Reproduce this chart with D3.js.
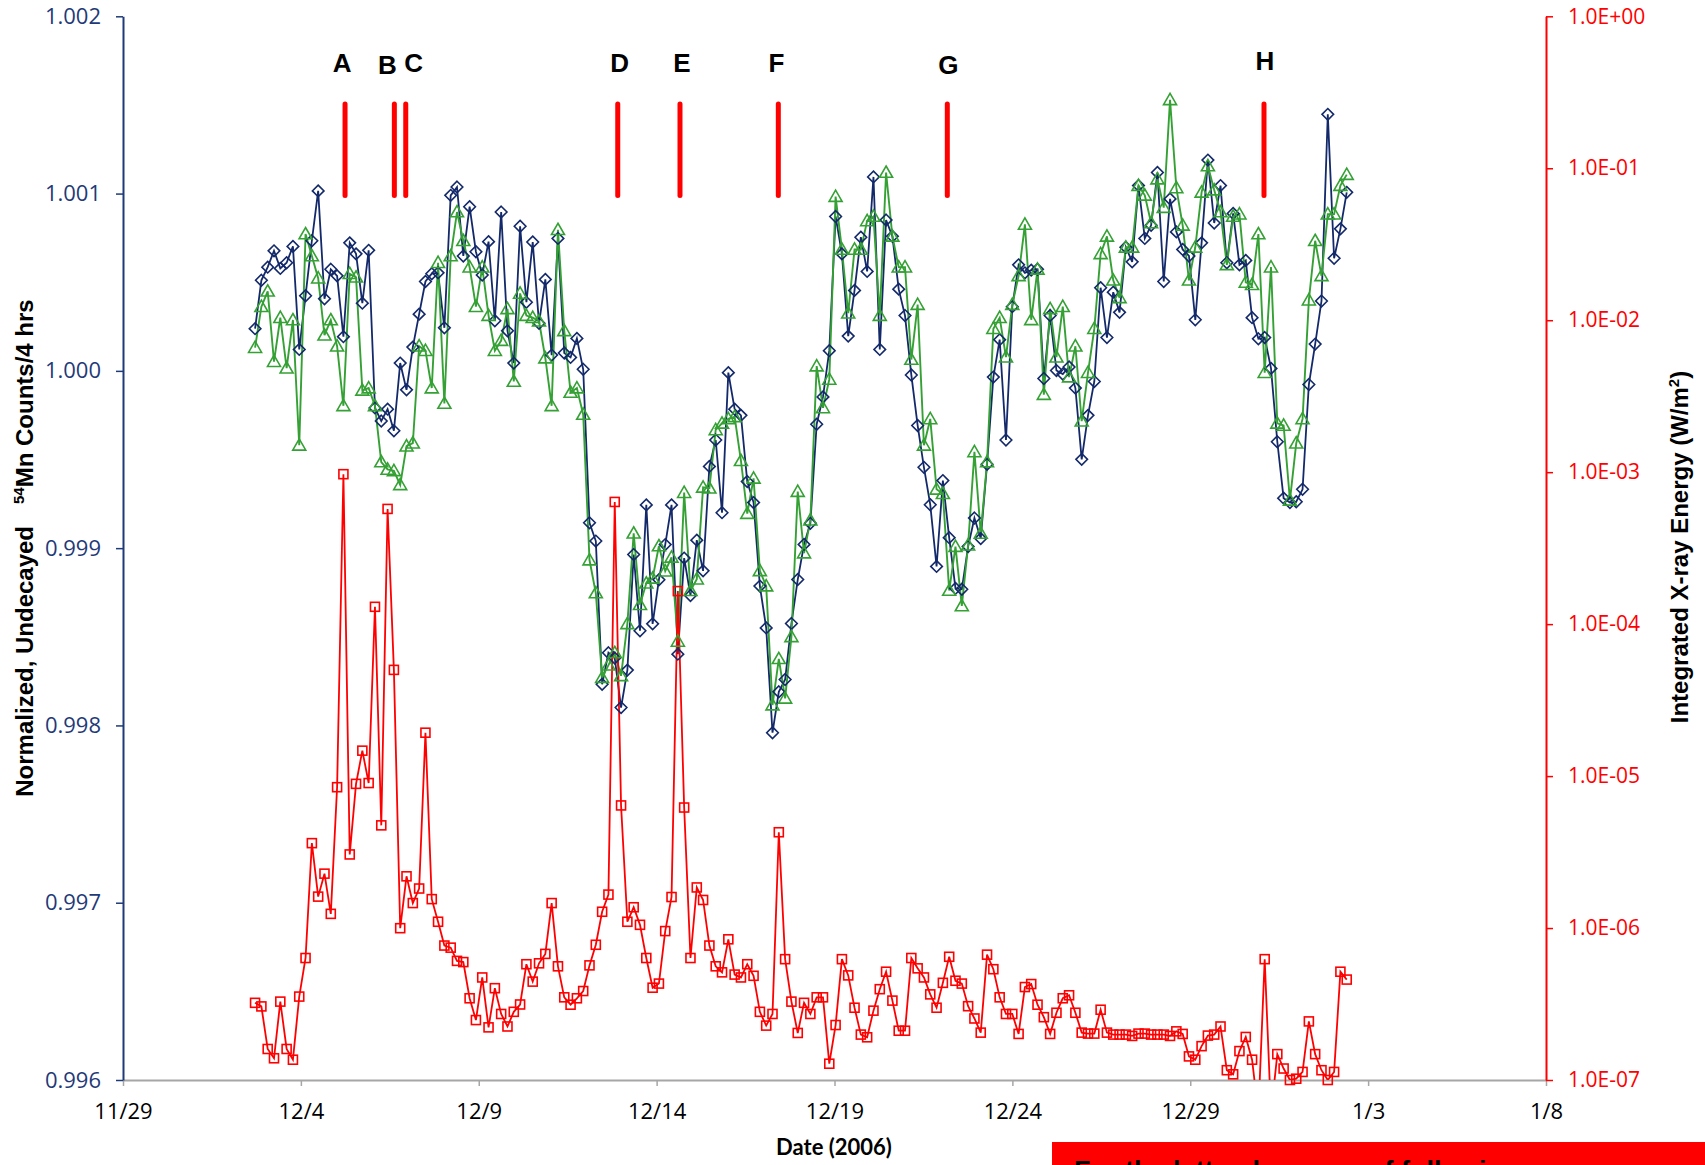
<!DOCTYPE html>
<html><head><meta charset="utf-8">
<script src="https://cdn.jsdelivr.net/npm/d3@7"></script>
<style>
html,body{margin:0;padding:0;background:#fff;}
svg{display:block;}
</style></head><body>
<svg id="chart" width="1705" height="1165"></svg>
<script>
// ---------- DATA ----------
const startTime = "2006-12-02T17:06";   // first 4-hr count
const intervalHours = 4.257;             // spacing between counts

const mn54Counts = [
1.000238,1.000511,1.000585,1.000677,1.000578,1.000610,1.000702,1.000121,1.000424,1.000734,
1.001015,1.000407,1.000573,1.000536,1.000193,1.000722,1.000660,1.000382,1.000680,0.999791,
0.999717,0.999784,0.999662,1.000044,0.999893,1.000134,1.000320,1.000504,1.000548,1.000553,
1.000243,1.000990,1.001037,1.000648,1.000926,1.000672,1.000541,1.000729,1.000283,1.000896,
1.000226,1.000044,1.000816,1.000387,1.000727,1.000268,1.000516,1.000089,1.000747,1.000101,
1.000076,1.000183,1.000009,0.999143,0.999040,0.998232,0.998410,0.998380,0.998101,0.998312,
0.998964,0.998534,0.999244,0.998573,0.998822,0.999020,0.999244,0.998402,0.998944,0.998733,
0.999045,0.998872,0.999461,0.999610,0.999200,0.999990,0.999784,0.999749,0.999376,0.999257,
0.998786,0.998550,0.997959,0.998190,0.998259,0.998575,0.998823,0.999021,0.999140,0.999699,
0.999853,1.000114,1.000871,1.000660,1.000196,1.000454,1.000754,1.000561,1.001094,1.000121,
1.000851,1.000759,1.000461,1.000312,0.999977,0.999692,0.999456,0.999245,0.998897,0.999381,
0.999059,0.998773,0.998768,0.999009,0.999170,0.999054,0.999473,0.999965,1.000176,0.999610,
1.000362,1.000598,1.000553,1.000568,1.000573,0.999957,1.000312,1.000002,0.999982,1.000022,
0.999903,0.999501,0.999749,0.999940,1.000469,1.000188,1.000444,1.000330,1.000697,1.000615,
1.001045,1.000747,1.000821,1.001119,1.000504,1.000970,1.000784,1.000685,1.000648,1.000288,
1.000722,1.001189,1.000834,1.001045,1.000610,1.000888,1.000598,1.000623,1.000300,1.000181,
1.000188,1.000014,0.999600,0.999282,0.999257,0.999262,0.999332,0.999923,1.000151,1.000394,
1.001447,1.000635,1.000801,1.001007];

const mn54Second = [
1.000131,1.000362,1.000449,1.000052,1.000300,1.000015,1.000287,0.999580,1.000772,1.000648,
1.000523,1.000201,1.000287,1.000139,0.999803,1.000548,1.000528,0.999890,0.999903,0.999803,
0.999486,0.999444,0.999436,0.999357,0.999575,0.999592,1.000139,1.000114,0.999903,1.000610,
0.999816,1.000648,1.000896,1.000734,1.000585,1.000362,1.000585,1.000312,1.000114,1.000171,
1.000350,0.999940,1.000437,1.000312,1.000300,1.000280,1.000072,0.999803,1.000796,1.000226,
0.999878,0.999903,0.999754,0.998933,0.998747,0.998270,0.998340,0.998410,0.998280,0.998573,
0.999084,0.998681,0.998802,0.998830,0.999012,0.998870,0.998948,0.998474,0.999313,0.998760,
0.998825,0.999343,0.999338,0.999667,0.999704,0.999729,0.999741,0.999493,0.999195,0.999394,
0.998872,0.998786,0.998115,0.998376,0.998153,0.998500,0.999319,0.998972,0.999158,1.000027,
0.999791,0.999952,1.000983,1.000685,1.000325,1.000685,1.000685,1.000846,1.000871,1.000312,
1.001119,1.000759,1.000585,1.000585,1.000064,1.000374,0.999580,0.999729,0.999332,0.999307,
0.998761,0.999009,0.998674,0.999017,0.999543,0.999083,0.999486,1.000238,1.000300,1.000077,
1.000374,1.000536,1.000826,1.000288,1.000573,0.999866,1.000350,1.000077,1.000362,0.999965,
1.000139,0.999716,0.999990,1.000238,1.000660,1.000759,1.000511,1.000412,1.000697,1.000697,
1.001045,1.000990,1.000834,1.001082,1.000921,1.001529,1.001032,1.000821,1.000511,1.000697,
1.001007,1.001156,1.001020,1.000896,1.000598,1.000871,1.000884,1.000499,1.000486,1.000772,
0.999990,1.000585,0.999704,0.999692,0.999270,0.999592,0.999729,1.000399,1.000734,1.000536,
1.000884,1.000884,1.001045,1.001107];

const xrayEnergy = [
3.22e-7,3.05e-7,1.60e-7,1.39e-7,3.28e-7,1.60e-7,1.36e-7,3.54e-7,6.35e-7,3.62e-6,
1.61e-6,2.28e-6,1.24e-6,8.45e-6,9.70e-4,3.05e-6,8.89e-6,1.47e-5,9.00e-6,1.30e-4,
4.74e-6,5.73e-4,5.00e-5,9.98e-7,2.19e-6,1.46e-6,1.82e-6,1.93e-5,1.55e-6,1.10e-6,
7.67e-7,7.43e-7,6.08e-7,5.97e-7,3.45e-7,2.48e-7,4.73e-7,2.22e-7,4.02e-7,2.72e-7,
2.25e-7,2.81e-7,3.14e-7,5.78e-7,4.44e-7,5.86e-7,6.76e-7,1.46e-6,5.60e-7,3.50e-7,
3.13e-7,3.45e-7,3.85e-7,5.68e-7,7.76e-7,1.28e-6,1.66e-6,6.37e-4,6.41e-6,1.10e-6,
1.37e-6,1.05e-6,6.35e-7,4.05e-7,4.31e-7,9.55e-7,1.60e-6,1.65e-4,6.21e-6,6.35e-7,
1.85e-6,1.53e-6,7.67e-7,5.60e-7,5.11e-7,8.43e-7,4.94e-7,4.73e-7,5.78e-7,4.85e-7,
2.81e-7,2.28e-7,2.72e-7,4.27e-6,6.24e-7,3.28e-7,2.04e-7,3.22e-7,2.72e-7,3.50e-7,
3.50e-7,1.28e-7,2.30e-7,6.24e-7,4.88e-7,2.99e-7,1.99e-7,1.91e-7,2.86e-7,3.96e-7,
5.16e-7,3.33e-7,2.11e-7,2.11e-7,6.35e-7,5.43e-7,4.73e-7,3.66e-7,2.99e-7,4.36e-7,
6.47e-7,4.50e-7,4.31e-7,3.06e-7,2.54e-7,2.05e-7,6.68e-7,5.36e-7,3.50e-7,2.72e-7,
2.72e-7,2.01e-7,4.09e-7,4.28e-7,3.13e-7,2.59e-7,2.01e-7,2.77e-7,3.45e-7,3.61e-7,
2.77e-7,2.05e-7,2.02e-7,2.02e-7,2.90e-7,2.05e-7,1.99e-7,1.99e-7,1.99e-7,1.95e-7,
2.02e-7,2.02e-7,1.99e-7,1.99e-7,1.99e-7,1.95e-7,2.09e-7,2.01e-7,1.43e-7,1.36e-7,
1.67e-7,1.96e-7,1.99e-7,2.25e-7,1.16e-7,1.09e-7,1.55e-7,1.92e-7,1.36e-7,6.0e-8,
6.24e-7,6.0e-8,1.48e-7,1.19e-7,1.00e-7,1.02e-7,1.13e-7,2.43e-7,1.48e-7,1.16e-7,
1.00e-7,1.13e-7,5.16e-7,4.58e-7];

const xTickDates  = ["2006-11-29","2006-12-04","2006-12-09","2006-12-14","2006-12-19","2006-12-24","2006-12-29","2007-01-03","2007-01-08"];
const xTickLabels = ["11/29","12/4","12/9","12/14","12/19","12/24","12/29","1/3","1/8"];
const leftTicks  = [0.996,0.997,0.998,0.999,1.000,1.001,1.002];
const rightTicks = [1e-7,1e-6,1e-5,1e-4,1e-3,1e-2,1e-1,1];

const eventLabels = ["A","B","C","D","E","F","G","H"];
const eventTimes  = ["2006-12-05T05:48","2006-12-06T15:04","2006-12-06T22:45","2006-12-12T21:46",
                     "2006-12-14T15:46","2006-12-17T10:06","2006-12-22T04:06","2006-12-31T01:45"];
const eventBar = [1.000989, 1.001505];   // vertical extent of the event markers (left-axis units)

// ---------- STYLE / LAYOUT ----------
const plot = {left:123, right:1546, top:16.3, bottom:1080};
const NAVY = "#1F3A78", SERIES_NAVY = "#13296A", GREEN = "#35A135", RED = "#FF0000", GRAY = "#A6A6A6";
const labelShift = [[-3,0],[-7,2],[8,0],[2,0],[2,0],[-2,0],[1,2],[1,-2]];

const svg = d3.select("#chart");
const parse = d3.utcParse("%Y-%m-%dT%H:%M");
const parseDay = d3.utcParse("%Y-%m-%d");
const t0 = parse(startTime);
const times = d3.range(mn54Counts.length).map(i => new Date(t0.getTime() + i * intervalHours * 3600e3));

const x = d3.scaleUtc().domain([parseDay(xTickDates[0]), parseDay(xTickDates[xTickDates.length-1])])
  .range([plot.left, plot.right]);
const yL = d3.scaleLinear().domain([0.996, 1.002]).range([plot.bottom, plot.top]);
const yR = d3.scaleLog().domain([1e-7, 1]).range([plot.bottom, plot.top]);

svg.append("defs").append("clipPath").attr("id","plotclip")
  .append("rect").attr("x", plot.left).attr("y", 0)
  .attr("width", plot.right - plot.left).attr("height", plot.bottom);

const tickFont = "'Open Sans', 'DejaVu Sans', sans-serif";

// x axis
const xAxis = svg.append("g").attr("transform", `translate(0,${plot.bottom})`)
  .call(d3.axisBottom(x).tickValues(xTickDates.map(parseDay))
    .tickFormat((d,i) => xTickLabels[i]).tickSize(6).tickSizeOuter(0).tickPadding(17));
xAxis.select(".domain").attr("stroke", GRAY).attr("stroke-width", 2);
xAxis.selectAll(".tick line").attr("stroke", GRAY).attr("stroke-width", 1.5);
xAxis.selectAll(".tick text").attr("fill", "#000").style("font-family", tickFont).style("font-size","22px");

// left axis
const lAxis = svg.append("g").attr("transform", `translate(${plot.left},0)`)
  .call(d3.axisLeft(yL).tickValues(leftTicks).tickFormat(d3.format(".3f")).tickSize(7).tickSizeOuter(0).tickPadding(15));
lAxis.select(".domain").attr("stroke", NAVY).attr("stroke-width", 2);
lAxis.selectAll(".tick line").attr("stroke", NAVY).attr("stroke-width", 1.5);
lAxis.selectAll(".tick text").attr("fill", NAVY).style("font-family", tickFont).style("font-size","22px");

// right axis
const expFmt = d => { const e = Math.round(Math.log10(d)); return "1.0E" + (e < 0 ? "-" : "+") + String(Math.abs(e)).padStart(2,"0"); };
const rAxis = svg.append("g").attr("transform", `translate(${plot.right},0)`)
  .call(d3.axisRight(yR).tickValues(rightTicks).tickFormat(expFmt).tickSize(7).tickSizeOuter(0).tickPadding(15));
rAxis.select(".domain").attr("stroke", RED).attr("stroke-width", 2);
rAxis.selectAll(".tick line").attr("stroke", RED).attr("stroke-width", 1.5);
rAxis.selectAll(".tick text").attr("fill", RED).style("font-family", tickFont).style("font-size","21px");

// axis titles
const lt = svg.append("text").attr("transform","translate(33,548) rotate(-90)")
  .attr("text-anchor","middle").attr("fill","#000")
  .style("font-family","'Liberation Sans', Arial, sans-serif").style("font-weight","bold").style("font-size","24px");
lt.append("tspan").text("Normalized, Undecayed");
lt.append("tspan").attr("dx", 22).attr("dy", -9).style("font-size","15px").text("54");
lt.append("tspan").attr("dy", 9).text("Mn Counts/4 hrs");

const rt = svg.append("text").attr("transform","translate(1688,547) rotate(-90)")
  .attr("text-anchor","middle").attr("fill","#000")
  .style("font-family","'Liberation Sans', Arial, sans-serif").style("font-weight","bold").style("font-size","24px");
rt.append("tspan").text("Integrated X-ray Energy (W/m");
rt.append("tspan").attr("dy", -9).style("font-size","15px").text("2");
rt.append("tspan").attr("dy", 9).text(")");

svg.append("text").attr("x", 834).attr("y", 1155).attr("text-anchor","middle")
  .style("font-family","Lato, 'Open Sans', sans-serif").style("font-weight","bold").style("font-size","22px")
  .text("Date (2006)");

// series
const plotG = svg.append("g").attr("clip-path","url(#plotclip)");
const lineL = vals => d3.line().x((d,i) => x(times[i])).y(d => yL(d))(vals);
const lineR = d3.line().x((d,i) => x(times[i])).y(d => yR(Math.max(d, 1e-9)));

plotG.append("path").attr("d", lineL(mn54Counts)).attr("fill","none").attr("stroke",SERIES_NAVY).attr("stroke-width",1.8);
svg.append("g").selectAll("path").data(mn54Counts).join("path")
  .attr("transform",(d,i)=>`translate(${x(times[i])},${yL(d)})`)
  .attr("d","M0,-5.8L5.8,0L0,5.8L-5.8,0Z").attr("fill","none").attr("stroke",SERIES_NAVY).attr("stroke-width",1.6);

plotG.append("path").attr("d", lineL(mn54Second)).attr("fill","none").attr("stroke",GREEN).attr("stroke-width",1.9);
svg.append("g").selectAll("path").data(mn54Second).join("path")
  .attr("transform",(d,i)=>`translate(${x(times[i])},${yL(d)})`)
  .attr("d","M0,-6.5L6.5,4.8L-6.5,4.8Z").attr("fill","none").attr("stroke",GREEN).attr("stroke-width",1.6);

plotG.append("path").attr("d", lineR(xrayEnergy)).attr("fill","none").attr("stroke",RED).attr("stroke-width",1.8);
svg.append("g").selectAll("rect").data(xrayEnergy.map((v,i)=>({v,i})).filter(d => d.v >= 1e-7)).join("rect")
  .attr("x", d => x(times[d.i]) - 4.5).attr("y", d => yR(d.v) - 4.5)
  .attr("width", 9).attr("height", 9).attr("fill","none").attr("stroke",RED).attr("stroke-width",1.6);

// flare event markers
const evG = svg.append("g");
eventTimes.forEach((t,i) => {
  const ex = x(parse(t));
  evG.append("line").attr("x1",ex).attr("x2",ex).attr("y1",yL(eventBar[0])).attr("y2",yL(eventBar[1]))
    .attr("stroke",RED).attr("stroke-width",5).attr("stroke-linecap","round");
  evG.append("text").attr("x", ex + labelShift[i][0]).attr("y", 72 + labelShift[i][1])
    .attr("text-anchor","middle").attr("fill","#000")
    .style("font-family","'Liberation Sans', Arial, sans-serif").style("font-weight","bold").style("font-size","26px")
    .text(eventLabels[i]);
});

// red banner at the bottom (its text is cut by the picture edge, as in the original)
svg.append("rect").attr("x",1052).attr("y",1142).attr("width",653).attr("height",30).attr("fill",RED);
svg.append("text").attr("x",1074).attr("y",1180).attr("fill","#000")
  .style("font-family","'Liberation Sans', Arial, sans-serif").style("font-weight","bold").style("font-size","27px")
  .text("For the latter, because of following");
</script>
</body></html>
